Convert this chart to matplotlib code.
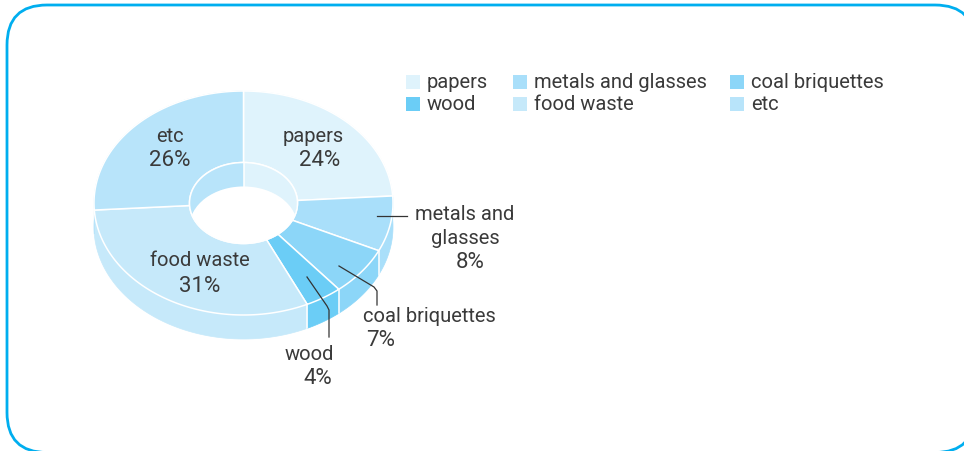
import numpy as np
import matplotlib
matplotlib.use("Agg")
import matplotlib.pyplot as plt
from matplotlib.patches import Polygon, FancyBboxPatch, Rectangle, Ellipse

plt.rcParams['font.family'] = ['Roboto', 'DejaVu Sans']

# Waste composition
categories = ['papers', 'metals and glasses', 'coal briquettes', 'wood', 'food waste', 'etc']
shares = [24, 8, 7, 4, 31, 26]
colors = ['#DFF3FC', '#A9DFFA', '#8CD6F8', '#6BCDF6', '#C6E9FA', '#B8E4FA']

W, H = 964, 451
cx, cy = 243.5, 203
rx, ry = 149.5, 112
irx, iry = 54, 40.5
depth = 24
text_color = '#3A3A3A'
fs = 14.5
fs_pct = 16

fig = plt.figure(figsize=(W / 100, H / 100), dpi=100)
ax = fig.add_axes([0, 0, 1, 1])
ax.set_xlim(0, W)
ax.set_ylim(H, 0)
ax.axis('off')

# Rounded frame, running off the right and bottom edges
frame = FancyBboxPatch((7 + 40, 5 + 40), 968 - 80, 447.5 - 80,
                       boxstyle='round,pad=40,rounding_size=40',
                       fc='white', ec='#00AEEF', lw=2.0, zorder=0)
ax.add_patch(frame)


def arc(a0, a1, a, b, dy=0):
    # angles in degrees clockwise from twelve o'clock
    t = np.radians(np.linspace(a0, a1, 120))
    return np.column_stack([cx + a * np.sin(t), cy + dy - b * np.cos(t)])


edges = np.cumsum([0] + shares) * 3.6

# Outer wall, only the part facing the viewer
for a0, a1, c in zip(edges[:-1], edges[1:], colors):
    top = arc(a0, a1, rx, ry)
    bottom = arc(a0, a1, rx, ry, depth)
    ax.add_patch(Polygon(np.vstack([top, bottom[::-1]]), fc=c, ec=c, lw=0.5, zorder=1))

# Seams between slices on the outer wall
for a in edges[1:-1]:
    if 100 < a < 260:
        p = arc(a, a, rx, ry)[0]
        ax.plot([p[0], p[0]], [p[1], p[1] + depth], color='white', lw=1.1, zorder=2)

# Top face of the ring
for a0, a1, c in zip(edges[:-1], edges[1:], colors):
    pts = np.vstack([arc(a0, a1, rx, ry), arc(a0, a1, irx, iry)[::-1]])
    ax.add_patch(Polygon(pts, fc=c, ec='white', lw=1.1, zorder=3))

# Inner wall seen through the hole, clipped to the inner ellipse
hole_clip = Ellipse((cx, cy), 2 * irx, 2 * iry, transform=ax.transData)
for a0, a1, c in zip(edges[:-1], edges[1:], colors):
    pts = np.vstack([arc(a0, a1, irx, iry), arc(a0, a1, irx, iry, depth)[::-1]])
    wall = Polygon(pts, fc=c, ec=c, lw=0.5, zorder=4)
    ax.add_patch(wall)
    wall.set_clip_path(hole_clip)
ax.plot([cx, cx], [cy - iry, cy - iry + depth], color='white', lw=1.1, zorder=5)

hole = Ellipse((cx, cy + depth), 2 * irx, 2 * iry, fc='white', ec='none', zorder=6)
ax.add_patch(hole)
hole.set_clip_path(hole_clip)
ax.add_patch(Ellipse((cx, cy), 2 * irx, 2 * iry, fc='none', ec='white', lw=1.1, zorder=7))

# Legend, three columns by two rows
legend_x = [406, 513, 730, 406, 513, 730]
legend_y = [75, 75, 75, 97, 97, 97]
for name, c, x, y in zip(categories, colors, legend_x, legend_y):
    ax.add_patch(Rectangle((x, y), 14, 14, fc=c, ec='none', zorder=3))
    ax.text(x + 21, y + 7, name, fontsize=fs, color=text_color, va='center', ha='left')

# Slice labels
inside = [(313, 137, 'papers'), (320, 161, f'{shares[0]}%'),
          (170, 137, 'etc'), (170, 161, f'{shares[5]}%'),
          (200, 261, 'food waste'), (200, 286, f'{shares[4]}%')]
outside = [(465, 214, 'metals and'), (465, 238, 'glasses'), (470, 263, f'{shares[1]}%'),
           (429, 316, 'coal briquettes'), (381, 340, f'{shares[2]}%'),
           (309, 355, 'wood'), (318, 379, f'{shares[3]}%')]
for x, y, s in inside + outside:
    ax.text(x, y, s, fontsize=fs_pct if s.endswith('%') else fs, color=text_color,
            ha='center', va='center', zorder=10)

# Leader lines
ax.plot([377, 407], [216, 216], color='#333333', lw=0.9, zorder=9)
ax.plot([339, 374, 377, 377], [266, 287, 291, 305], color='#333333', lw=0.9, zorder=9)
ax.plot([307, 327, 329, 329], [277, 306, 310, 337], color='#333333', lw=0.9, zorder=9)

fig.savefig('out.png', dpi=100)
